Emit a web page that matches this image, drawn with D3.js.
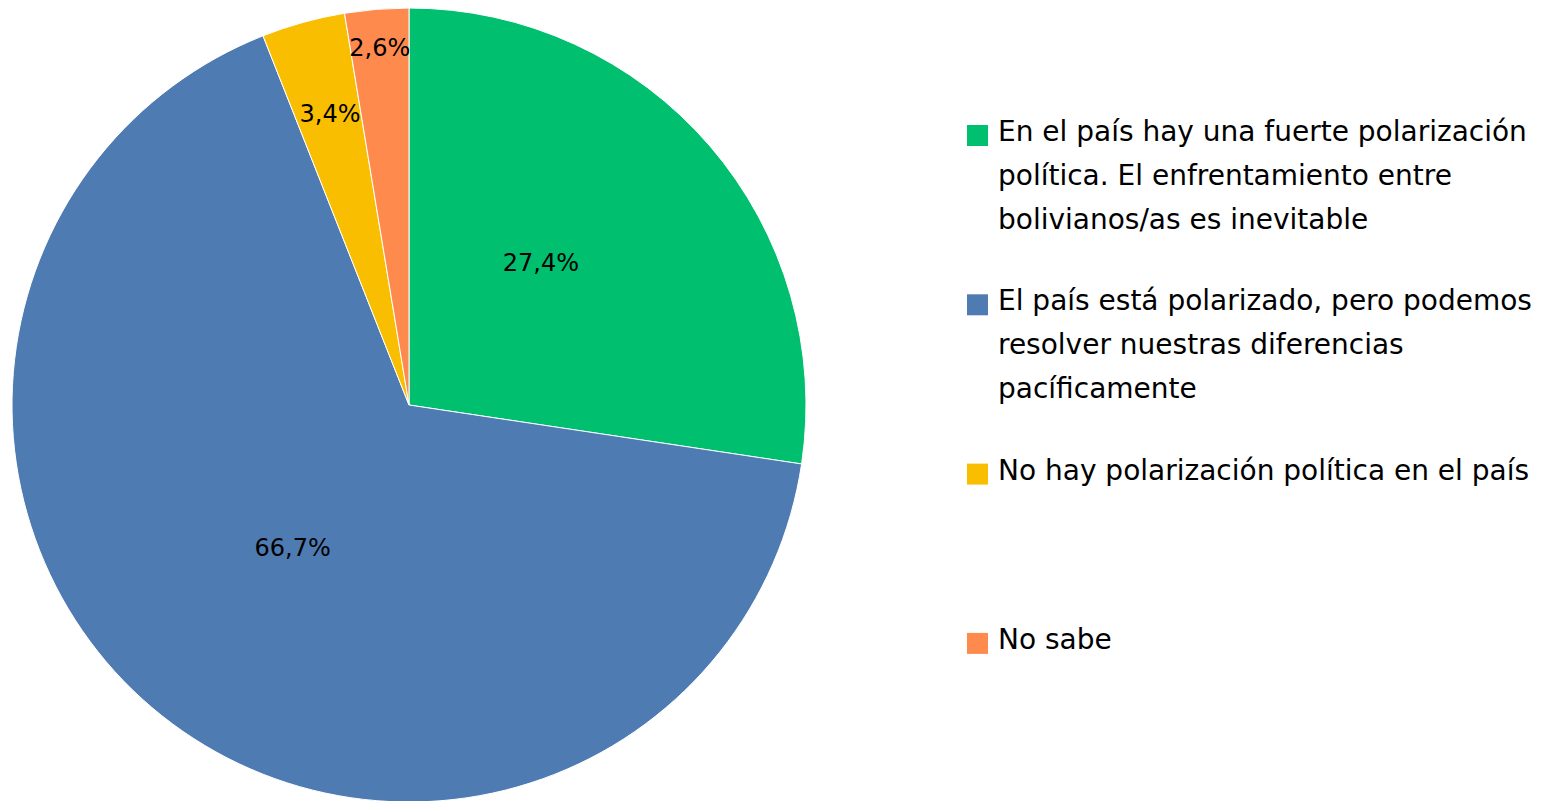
<!DOCTYPE html>
<html>
<head>
<meta charset="utf-8">
<script src="https://cdn.jsdelivr.net/npm/d3@7"></script>
<style>
  body { margin: 0; background: #fff; }
  text { font-family: "DejaVu Sans", sans-serif; }
</style>
</head>
<body>
<div id="chart"></div>
<script>
// data
var categories = [
  "En el país hay una fuerte polarización política. El enfrentamiento entre bolivianos/as es inevitable",
  "El país está polarizado, pero podemos resolver nuestras diferencias pacíficamente",
  "No hay polarización política en el país",
  "No sabe"
];
var legendLines = [
  ["En el país hay una fuerte polarización", "política. El enfrentamiento entre", "bolivianos/as es inevitable"],
  ["El país está polarizado, pero podemos", "resolver nuestras diferencias", "pacíficamente"],
  ["No hay polarización política en el país"],
  ["No sabe"]
];
var values = [27.4, 66.7, 3.4, 2.6];
var colors = ["#00bf6f", "#4f7bb3", "#f9be00", "#ff8a4e"];

// layout
var width = 1551, height = 801;
var cx = 409, cy = 405, radius = 397;
var labelR = [0.49, 0.463, 0.76, 0.905];   // label distance as share of radius
var labelShift = [-6.6, 0.8, 0.3, 0];      // degrees, best-fit nudge

var svg = d3.select("#chart")
  .append("svg")
  .attr("width", width)
  .attr("height", height);

var pie = d3.pie()
  .sort(null)
  .value(function(d) { return d; });

var arcs = pie(values);

var arc = d3.arc()
  .innerRadius(0)
  .outerRadius(radius);

var g = svg.append("g")
  .attr("transform", "translate(" + cx + "," + cy + ")");

g.selectAll("path")
  .data(arcs)
  .enter()
  .append("path")
  .attr("d", arc)
  .attr("fill", function(d, i) { return colors[i]; })
  .attr("stroke", "#fff")
  .attr("stroke-width", 1);

// slice labels
g.selectAll("text.lbl")
  .data(arcs)
  .enter()
  .append("text")
  .attr("class", "lbl")
  .attr("transform", function(d, i) {
    var r = radius * labelR[i];
    var a = (d.startAngle + d.endAngle) / 2 + labelShift[i] * Math.PI / 180;
    return "translate(" + (r * Math.sin(a)) + "," + (-r * Math.cos(a)) + ")";
  })
  .attr("text-anchor", "middle")
  .attr("dy", "0.36em")
  .style("font-size", "24px")
  .style("fill", "#000")
  .text(function(d) { return d3.format(".1f")(d.data).replace(".", ",") + "%"; });

// legend
var legend = svg.append("g")
  .attr("transform", "translate(967,141)");

var item = legend.selectAll("g")
  .data(categories)
  .enter()
  .append("g")
  .attr("transform", function(d, i) { return "translate(0," + (i * 169.3) + ")"; });

item.append("rect")
  .attr("y", -16)
  .attr("width", 21)
  .attr("height", 21)
  .attr("fill", function(d, i) { return colors[i]; });

item.append("text")
  .attr("x", 31)
  .attr("y", 0)
  .style("font-size", "28px")
  .style("fill", "#000")
  .selectAll("tspan")
  .data(function(d, i) { return legendLines[i]; })
  .enter()
  .append("tspan")
  .attr("x", 31)
  .attr("dy", function(d, j) { return j == 0 ? 0 : 44; })
  .text(function(d) { return d; });
</script>
</body>
</html>
